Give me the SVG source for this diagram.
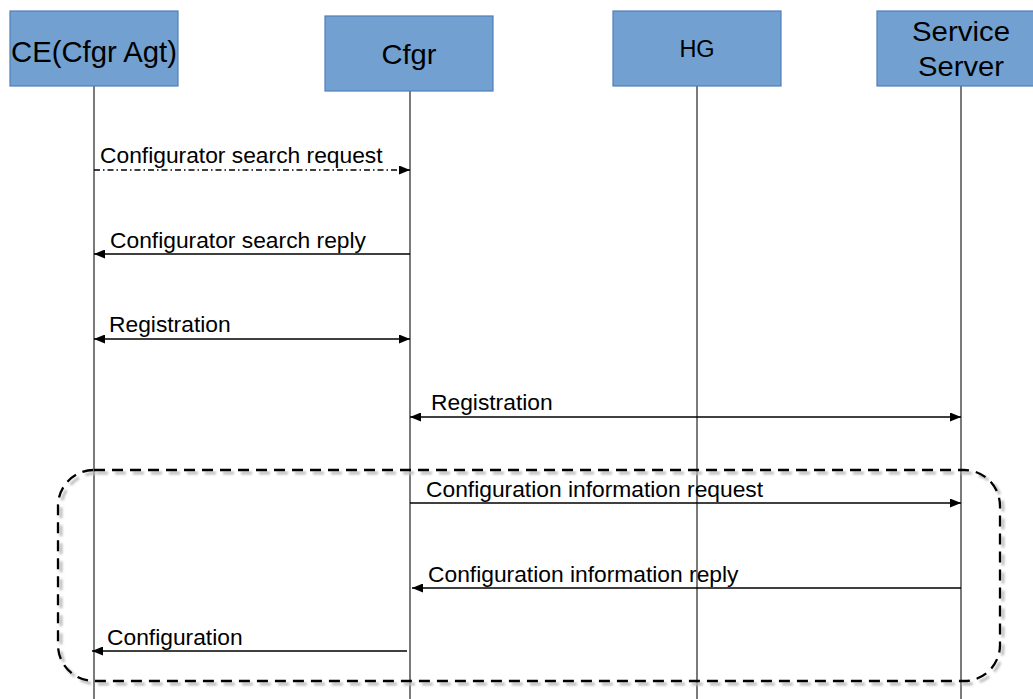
<svg xmlns="http://www.w3.org/2000/svg" width="1033" height="699" viewBox="0 0 1033 699">
  <style>
    .box { fill: #72A0D0; stroke: #4F7FBA; stroke-width: 1.2; }
    .hdr { font-family: "Liberation Sans", Arial, sans-serif; fill: #000; text-anchor: middle; }
    .life { stroke: #333; stroke-width: 1.3; fill: none; }
    .msg { stroke: #000; stroke-width: 1.5; fill: none; }
    .lbl { font-family: "Liberation Sans", Arial, sans-serif; font-size: 22.8px; fill: #000; }
  </style>
  <defs>
    <marker id="arrow" viewBox="0 0 11 9" refX="11" refY="4.5" markerWidth="11" markerHeight="9" markerUnits="userSpaceOnUse" orient="auto-start-reverse">
      <path d="M0,0 L11,4.5 L0,9 Z" fill="#000"/>
    </marker>
    <filter id="soft" x="-5%" y="-5%" width="110%" height="110%">
      <feGaussianBlur stdDeviation="1.2"/>
    </filter>
  </defs>

  <!-- lifelines -->
  <g id="lifelines">
    <line class="life" x1="94" y1="86" x2="94" y2="699"/>
    <line class="life" x1="410" y1="91" x2="410" y2="699"/>
    <line class="life" x1="697" y1="86" x2="697" y2="699"/>
    <line class="life" x1="961" y1="86" x2="961" y2="699"/>
  </g>

  <!-- participants -->
  <g id="node-ce">
    <rect class="box" x="10" y="11" width="168" height="75"/>
    <text class="hdr" x="94" y="62" font-size="30" textLength="166" lengthAdjust="spacingAndGlyphs">CE(Cfgr Agt)</text>
  </g>
  <g id="node-cfgr">
    <rect class="box" x="325" y="16" width="168" height="75"/>
    <text class="hdr" x="409" y="64" font-size="28" textLength="55" lengthAdjust="spacingAndGlyphs">Cfgr</text>
  </g>
  <g id="node-hg">
    <rect class="box" x="613" y="11" width="168" height="75"/>
    <text class="hdr" x="697" y="57" font-size="23.5">HG</text>
  </g>
  <g id="node-server">
    <rect class="box" x="877" y="11" width="168" height="75"/>
    <text class="hdr" x="961" y="41" font-size="27" textLength="98" lengthAdjust="spacingAndGlyphs">Service</text>
    <text class="hdr" x="961" y="76" font-size="27" textLength="86" lengthAdjust="spacingAndGlyphs">Server</text>
  </g>

  <!-- grouping frame with drop shadow -->
  <g id="frame">
    <rect x="61" y="473" width="942" height="211" rx="36" ry="36" fill="none" stroke="#bdbdbd" stroke-width="3" stroke-dasharray="11 7" filter="url(#soft)"/>
    <rect x="58" y="470" width="942" height="211" rx="36" ry="36" fill="none" stroke="#000" stroke-width="2.3" stroke-dasharray="11 7"/>
  </g>

  <!-- messages -->
  <g id="connectors">
    <line class="msg" x1="94" y1="170" x2="410" y2="170" stroke-dasharray="6 3 1.5 3" marker-end="url(#arrow)"/>
    <line class="msg" x1="410" y1="254" x2="94" y2="254" marker-end="url(#arrow)"/>
    <line class="msg" x1="94" y1="339" x2="410" y2="339" marker-start="url(#arrow)" marker-end="url(#arrow)"/>
    <line class="msg" x1="410" y1="417" x2="961" y2="417" marker-start="url(#arrow)" marker-end="url(#arrow)"/>
    <line class="msg" x1="410" y1="503" x2="961" y2="503" marker-end="url(#arrow)"/>
    <line class="msg" x1="961" y1="588" x2="412" y2="588" marker-end="url(#arrow)"/>
    <line class="msg" x1="407" y1="651" x2="92" y2="651" marker-end="url(#arrow)"/>
  </g>

  <!-- message labels -->
  <g id="labels">
    <text class="lbl" x="100" y="163">Configurator search request</text>
    <text class="lbl" x="110" y="248">Configurator search reply</text>
    <text class="lbl" x="109" y="332">Registration</text>
    <text class="lbl" x="431" y="410">Registration</text>
    <text class="lbl" x="426" y="497">Configuration information request</text>
    <text class="lbl" x="428" y="582">Configuration information reply</text>
    <text class="lbl" x="107" y="645">Configuration</text>
  </g>
</svg>
